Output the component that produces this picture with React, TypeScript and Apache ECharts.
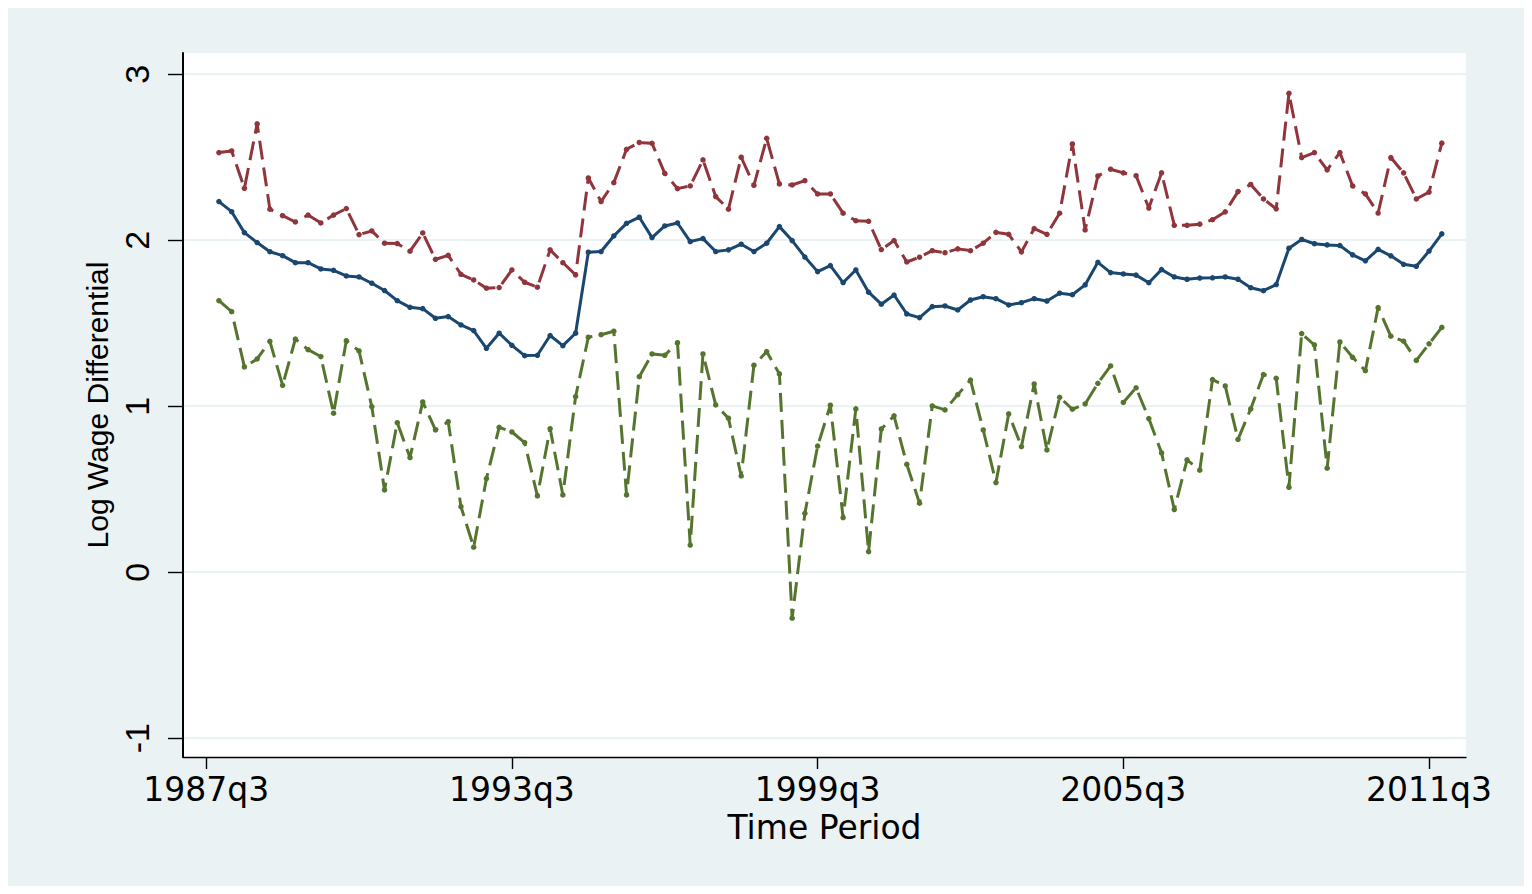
import React, { useEffect, useRef } from "react";
import * as echarts from "echarts";

// Quarters are counted from 1987q3 (= 0). The first observation is 1987q4.
const firstQuarter = 1;
const tickValues = [0, 24, 48, 72, 96];
const tickLabels = ["1987q3", "1993q3", "1999q3", "2005q3", "2011q3"];
const yTickValues = [-1, 0, 1, 2, 3];

// Solid navy line
const midSeries = [
  2.233, 2.172, 2.046, 1.986, 1.931, 1.907, 1.865, 1.865, 1.827, 1.819,
  1.785, 1.779, 1.741, 1.697, 1.636, 1.596, 1.588, 1.530, 1.540, 1.490,
  1.456, 1.349, 1.440, 1.367, 1.305, 1.307, 1.426, 1.365, 1.440, 1.928,
  1.932, 2.026, 2.102, 2.139, 2.016, 2.086, 2.104, 1.992, 2.010, 1.932,
  1.942, 1.976, 1.932, 1.982, 2.082, 1.998, 1.899, 1.811, 1.847, 1.745,
  1.821, 1.687, 1.615, 1.670, 1.556, 1.534, 1.600, 1.604, 1.580, 1.640,
  1.660, 1.648, 1.610, 1.624, 1.648, 1.634, 1.681, 1.672, 1.731, 1.867,
  1.805, 1.797, 1.790, 1.744, 1.823, 1.779, 1.765, 1.772, 1.774, 1.779,
  1.765, 1.714, 1.696, 1.733, 1.952, 2.005, 1.979, 1.972, 1.968, 1.912,
  1.876, 1.945, 1.906, 1.855, 1.843, 1.935, 2.039,
];

// Dashed maroon line
const highSeries = [
  2.528, 2.538, 2.313, 2.701, 2.187, 2.148, 2.110, 2.152, 2.104, 2.152,
  2.191, 2.034, 2.056, 1.982, 1.980, 1.934, 2.044, 1.885, 1.909, 1.795,
  1.761, 1.711, 1.715, 1.821, 1.747, 1.717, 1.942, 1.865, 1.791, 2.375,
  2.233, 2.347, 2.548, 2.589, 2.584, 2.403, 2.311, 2.327, 2.484, 2.263,
  2.187, 2.500, 2.331, 2.614, 2.339, 2.333, 2.359, 2.279, 2.279, 2.163,
  2.118, 2.114, 1.944, 1.998, 1.869, 1.898, 1.937, 1.925, 1.948, 1.937,
  1.982, 2.048, 2.036, 1.930, 2.070, 2.036, 2.163, 2.580, 2.062, 2.387,
  2.428, 2.406, 2.389, 2.194, 2.406, 2.090, 2.090, 2.097, 2.124, 2.171,
  2.293, 2.336, 2.249, 2.189, 2.885, 2.498, 2.528, 2.424, 2.528, 2.327,
  2.279, 2.164, 2.498, 2.406, 2.249, 2.290, 2.585,
];

// Dashed green line
const lowSeries = [
  1.636, 1.570, 1.237, 1.285, 1.391, 1.126, 1.405, 1.341, 1.299, 0.958,
  1.395, 1.333, 0.998, 0.496, 0.901, 0.691, 1.026, 0.857, 0.907, 0.395,
  0.151, 0.564, 0.873, 0.845, 0.781, 0.460, 0.865, 0.466, 1.058, 1.416,
  1.431, 1.452, 0.466, 1.178, 1.315, 1.307, 1.383, 0.164, 1.315, 1.008,
  0.928, 0.580, 1.247, 1.329, 1.195, -0.277, 0.355, 0.760, 1.006, 0.329,
  0.984, 0.124, 0.863, 0.942, 0.650, 0.416, 1.002, 0.978, 1.070, 1.158,
  0.857, 0.540, 0.954, 0.757, 1.134, 0.737, 1.054, 0.982, 1.014, 1.138,
  1.243, 1.023, 1.111, 0.926, 0.719, 0.378, 0.677, 0.615, 1.161, 1.122,
  0.800, 0.984, 1.191, 1.168, 0.512, 1.438, 1.369, 0.627, 1.387, 1.295,
  1.214, 1.594, 1.422, 1.392, 1.276, 1.376, 1.475,
];

function toPoints(values: number[]) {
  return values.map((v, i) => [firstQuarter + i, v]);
}

function lineSeries(name: string, values: number[], color: string, dashed: boolean) {
  return {
    name,
    type: "line",
    data: toPoints(values),
    symbol: "circle",
    symbolSize: 5.5,
    showSymbol: true,
    itemStyle: { color },
    lineStyle: { color, width: 3, type: dashed ? [19, 8] : "solid" },
    emphasis: { disabled: true },
  };
}

export default function App() {
  const ref = useRef<HTMLDivElement>(null);
  useEffect(() => {
    if (!ref.current) return;
    const chart = echarts.init(ref.current, undefined, { renderer: "svg" });
    chart.setOption({
      animation: false,
      backgroundColor: "#eaf2f3",
      grid: {
        left: 175,
        right: 58,
        top: 45,
        bottom: 129,
        show: true,
        backgroundColor: "#ffffff",
        borderWidth: 0,
      },
      xAxis: {
        type: "value",
        min: -1.82,
        max: 98.9,
        name: "Time Period",
        nameLocation: "middle",
        nameGap: 47,
        nameTextStyle: { fontFamily: "DejaVu Sans", fontSize: 33, color: "#000" },
        axisLine: { show: true, onZero: false, lineStyle: { color: "#000", width: 1.4 } },
        axisTick: { show: true, length: 12, customValues: tickValues, lineStyle: { color: "#000", width: 1.4 } },
        axisLabel: {
          customValues: tickValues,
          formatter: (v: number) => tickLabels[tickValues.indexOf(v)] ?? "",
          margin: 16,
          fontFamily: "DejaVu Sans",
          fontSize: 33,
          color: "#000",
        },
        splitLine: { show: false },
      },
      yAxis: {
        type: "value",
        min: -1.113,
        max: 3.128,
        name: "Log Wage Differential",
        nameLocation: "middle",
        nameGap: 71,
        nameTextStyle: { fontFamily: "Liberation Sans", fontSize: 30, color: "#000" },
        axisLine: { show: true, onZero: false, lineStyle: { color: "#000", width: 2 } },
        axisTick: { show: true, length: 15, customValues: yTickValues, lineStyle: { color: "#000", width: 1.4 } },
        axisLabel: {
          customValues: yTickValues,
          rotate: 90,
          margin: 29,
          fontFamily: "Liberation Sans",
          fontSize: 34,
          color: "#000",
          formatter: (v: number) => String(v),
        },
        splitLine: { show: true, lineStyle: { color: "#eaf2f3", width: 2 } },
      },
      series: [
        lineSeries("Mid", midSeries, "#1a476f", false),
        lineSeries("High", highSeries, "#90353b", true),
        lineSeries("Low", lowSeries, "#55752f", true),
      ],
    });
    return () => chart.dispose();
  }, []);
  return <div ref={ref} style={{ width: 1516, height: 878 }} />;
}
